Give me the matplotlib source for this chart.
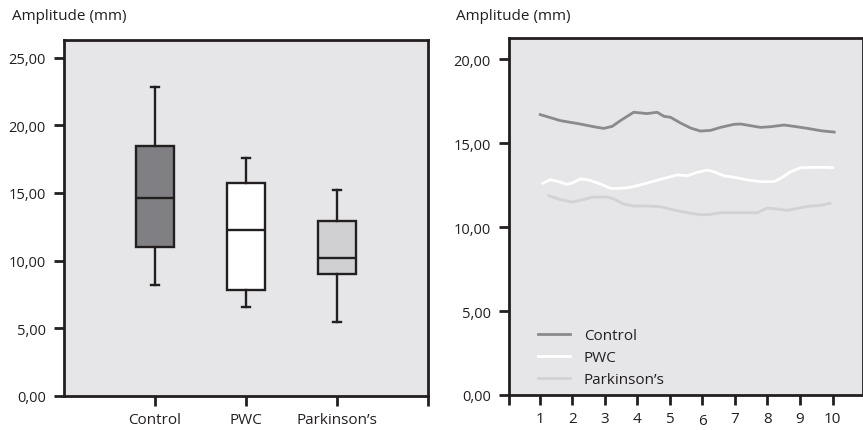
import matplotlib
matplotlib.use("Agg")
import matplotlib.pyplot as plt
from matplotlib.ticker import FuncFormatter

plt.rcParams['font.family'] = ['Open Sans', 'DejaVu Sans']

# box plot (left)
groups = ['Control', 'PWC', "Parkinson\u2019s"]
whisker_low = [8.2, 6.6, 5.5]
q1 = [11.0, 7.8, 9.0]
median = [14.6, 12.3, 10.2]
q3 = [18.5, 15.7, 12.9]
whisker_high = [22.8, 17.6, 15.2]
box_colors = ['#808084', '#ffffff', '#d0d0d3']

# line traces (right)
ctrl_x = [1.02, 1.64, 2.25, 2.66, 2.97, 3.23, 3.48, 3.89, 4.10, 4.30, 4.61, 4.82, 5.02, 5.33,
          5.64, 5.94, 6.25, 6.56, 6.97, 7.18, 7.48, 7.79, 8.10, 8.51, 8.82, 9.23, 9.64, 10.05]
ctrl_y = [16.69, 16.33, 16.13, 15.97, 15.87, 15.99, 16.33, 16.83, 16.79, 16.75, 16.83, 16.59, 16.53, 16.19,
          15.89, 15.71, 15.75, 15.93, 16.11, 16.13, 16.03, 15.93, 15.97, 16.07, 15.99, 15.87, 15.73, 15.65]
pwc_x = [1.10, 1.33, 1.58, 1.84, 2.00, 2.25, 2.51, 2.87, 3.18, 3.48, 3.79, 4.20, 4.61, 4.92, 5.23,
         5.54, 5.84, 6.15, 6.35, 6.66, 6.97, 7.38, 7.79, 8.20, 8.41, 8.71, 9.02, 9.43, 9.74, 10.0]
pwc_y = [12.60, 12.82, 12.70, 12.54, 12.62, 12.86, 12.80, 12.56, 12.30, 12.30, 12.36, 12.56, 12.78, 12.94, 13.10,
         13.05, 13.25, 13.39, 13.29, 13.05, 12.96, 12.80, 12.70, 12.70, 12.90, 13.29, 13.53, 13.55, 13.55, 13.53]
park_x = [1.28, 1.64, 2.00, 2.30, 2.61, 3.07, 3.28, 3.58, 3.89, 4.30, 4.71, 5.13, 5.54, 5.94, 6.25,
          6.56, 6.97, 7.38, 7.69, 7.99, 8.30, 8.61, 8.92, 9.23, 9.64, 9.92]
park_y = [11.86, 11.63, 11.49, 11.61, 11.77, 11.79, 11.67, 11.37, 11.25, 11.25, 11.21, 11.01, 10.85, 10.73, 10.75,
          10.85, 10.85, 10.85, 10.85, 11.13, 11.07, 10.99, 11.11, 11.23, 11.29, 11.41]
line_colors = ['#8a8a8d', '#ffffff', '#d2d2d4']

edge = '#231f20'
face = '#e6e6e8'
fmt = FuncFormatter(lambda v, p: f"{v:.2f}".replace('.', ','))

fig = plt.figure(figsize=(8.63, 4.31), dpi=100)

# ---- left panel
ax1 = fig.add_axes([64/863, 1-397/431, (428-64)/863, (397-41)/431])
ax1.set_facecolor(face)
stats = []
for i in range(3):
    stats.append({'whislo': whisker_low[i], 'q1': q1[i], 'med': median[i],
                  'q3': q3[i], 'whishi': whisker_high[i], 'fliers': []})
bp = ax1.bxp(stats, positions=[1, 2, 3], widths=0.41, patch_artist=True,
             showfliers=False, capwidths=0.08,
             boxprops=dict(edgecolor=edge, linewidth=1.7),
             medianprops=dict(color=edge, linewidth=1.7),
             whiskerprops=dict(color=edge, linewidth=1.7),
             capprops=dict(color=edge, linewidth=1.7))
for patch, c in zip(bp['boxes'], box_colors):
    patch.set_facecolor(c)
ax1.set_xlim(0, 4)
ax1.set_ylim(0, 26.3)
ax1.set_xticks([1, 2, 3, 4])
ax1.set_xticklabels(groups + [''])
ax1.set_yticks([0, 5, 10, 15, 20, 25])
ax1.yaxis.set_major_formatter(fmt)
fig.text(12/863, 1-17/431, 'Amplitude (mm)', fontsize=11, color=edge, va='center', ha='left')

# ---- right panel
ax2 = fig.add_axes([508.7/863, 1-396/431, (862.5-508.7)/863, (396-39)/431])
ax2.set_facecolor(face)
ax2.plot(ctrl_x, ctrl_y, color=line_colors[0], lw=2.0, label='Control')
ax2.plot(pwc_x, pwc_y, color=line_colors[1], lw=2.0, label='PWC')
ax2.plot(park_x, park_y, color=line_colors[2], lw=2.0, label="Parkinson\u2019s")
ax2.set_xlim(0.05, 10.92)
ax2.set_ylim(0, 21.25)
ax2.set_xticks([0.05] + list(range(1, 11)))
ax2.set_xticklabels([''] + [str(i) for i in range(1, 11)])
ax2.set_yticks([0, 5, 10, 15, 20])
ax2.yaxis.set_major_formatter(fmt)
leg = ax2.legend(loc='lower left', bbox_to_anchor=(0.083, 0.022), frameon=False,
                 fontsize=11, handlelength=2.1, handletextpad=0.9, labelspacing=0.45,
                 borderpad=0, borderaxespad=0, labelcolor=edge)
fig.text(456/863, 1-17/431, 'Amplitude (mm)', fontsize=11, color=edge, va='center', ha='left')

for ax in (ax1, ax2):
    for s in ax.spines.values():
        s.set_linewidth(2.0)
        s.set_color(edge)
    ax.tick_params(axis='both', length=7.5, width=2.0, color=edge, labelcolor=edge)
    ax.tick_params(axis='y', labelsize=10.5, pad=5.5)
    ax.tick_params(axis='x', labelsize=11, pad=4)

# the "6" sits a little lower in the original
ax2.xaxis.get_major_ticks()[6].set_pad(5.7)

fig.savefig('out.png', dpi=100, facecolor='white')
